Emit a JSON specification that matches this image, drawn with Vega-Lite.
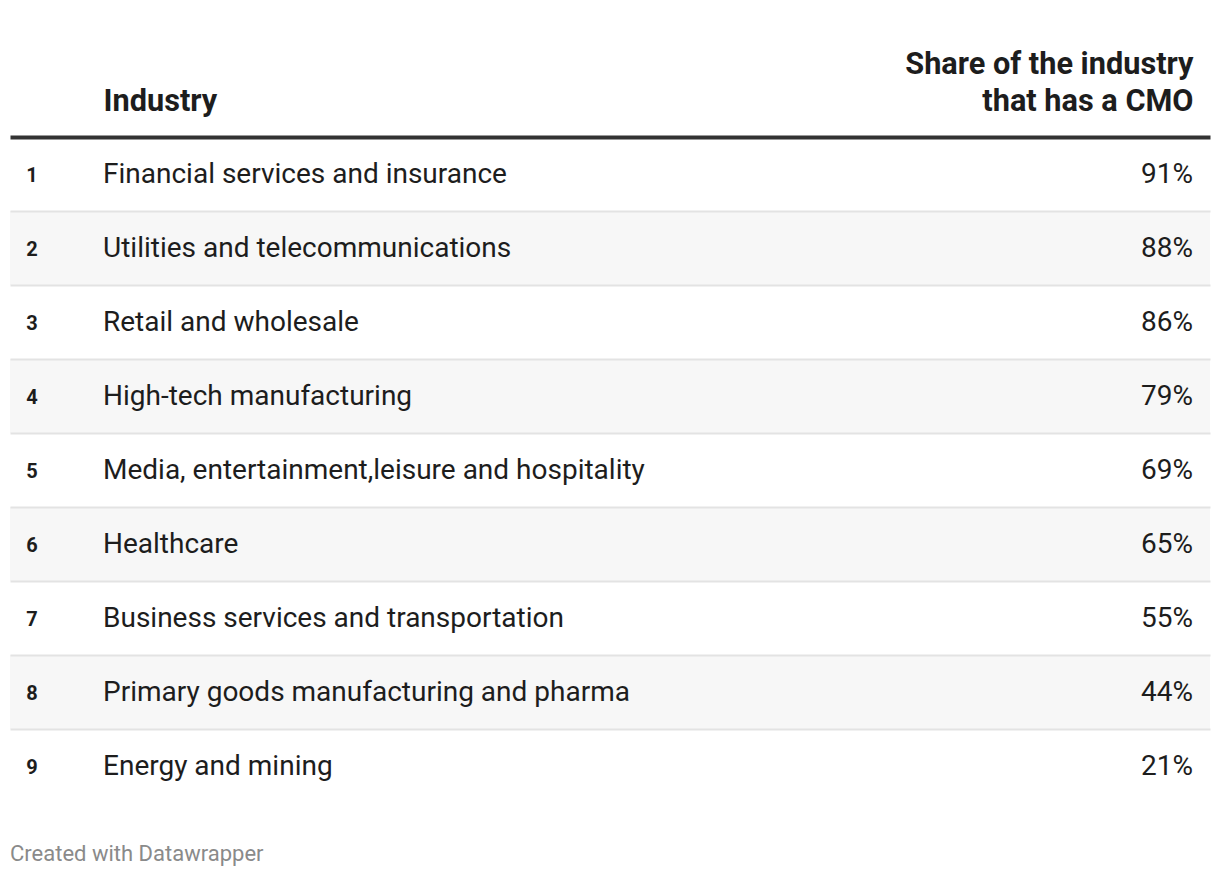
{
  "$schema": "https://vega.github.io/schema/vega-lite/v6.json",
  "width": 1200,
  "height": 666,
  "autosize": {"type": "none"},
  "padding": {"left": 10, "right": 10, "top": 137, "bottom": 75},
  "background": "#ffffff",
  "config": {"view": {"stroke": null}, "font": "Roboto"},
  "title": {"text": "Created with Datawrapper", "orient": "bottom", "anchor": "start", "frame": "group", "fontSize": 22, "fontWeight": "normal", "color": "#8a8a8a", "font": "Roboto", "offset": 41},
  "data": {"values": [
    {"rank": 1, "industry": "Financial services and insurance", "share": 0.91},
    {"rank": 2, "industry": "Utilities and telecommunications", "share": 0.88},
    {"rank": 3, "industry": "Retail and wholesale", "share": 0.86},
    {"rank": 4, "industry": "High-tech manufacturing", "share": 0.79},
    {"rank": 5, "industry": "Media, entertainment,leisure and hospitality", "share": 0.69},
    {"rank": 6, "industry": "Healthcare", "share": 0.65},
    {"rank": 7, "industry": "Business services and transportation", "share": 0.55},
    {"rank": 8, "industry": "Primary goods manufacturing and pharma", "share": 0.44},
    {"rank": 9, "industry": "Energy and mining", "share": 0.21}
  ]},
  "encoding": {
    "y": {"field": "rank", "type": "ordinal", "scale": {"type": "band", "paddingInner": 0, "paddingOuter": 0},
      "axis": {"title": null, "labels": false, "ticks": false, "domain": false, "grid": true, "bandPosition": 0, "zindex": 1,
        "gridColor": {"condition": {"test": "datum.value == 1", "value": "#333333"}, "value": "#e3e3e3"},
        "gridWidth": {"condition": {"test": "datum.value == 1", "value": 4}, "value": 2}}}
  },
  "layer": [
    {
      "mark": {"type": "rect"},
      "encoding": {
        "fill": {"condition": {"test": "datum.rank % 2 == 0", "value": "#f7f7f7"}, "value": "#ffffff"}
      }
    },
    {
      "mark": {"type": "text", "align": "center", "baseline": "middle", "fontSize": 20, "fontWeight": "bold", "color": "#1d1d1d", "font": "Roboto", "dy": 2},
      "encoding": {
        "x": {"datum": 22, "type": "quantitative", "scale": {"domain": [0, 1200], "zero": false, "nice": false},
          "axis": {"orient": "top", "title": null, "domain": false, "ticks": false, "tickSize": 0, "grid": false, "values": [93, 1183],
            "labelExpr": "datum.value < 600 ? ['', 'Industry'] : ['Share of the industry', 'that has a CMO']",
            "labelAlign": {"condition": {"test": "datum.value > 600", "value": "right"}, "value": "left"},
            "labelBaseline": "alphabetic", "labelPadding": 64, "labelLineHeight": 37, "labelFontSize": 30.7, "labelFontWeight": "bold", "labelColor": "#1d1d1d", "labelFont": "Roboto", "labelOverlap": false, "labelFlush": false, "labelBound": false, "labelLimit": 0}},
        "text": {"field": "rank"}
      }
    },
    {
      "mark": {"type": "text", "align": "left", "baseline": "middle", "fontSize": 28, "color": "#1d1d1d", "font": "Roboto", "dy": 1},
      "encoding": {
        "x": {"datum": 93, "type": "quantitative"},
        "text": {"field": "industry"}
      }
    },
    {
      "mark": {"type": "text", "align": "right", "baseline": "middle", "fontSize": 28, "color": "#1d1d1d", "font": "Roboto", "dy": 1},
      "encoding": {
        "x": {"datum": 1183, "type": "quantitative"},
        "text": {"field": "share", "format": ".0%"}
      }
    }
  ]
}
